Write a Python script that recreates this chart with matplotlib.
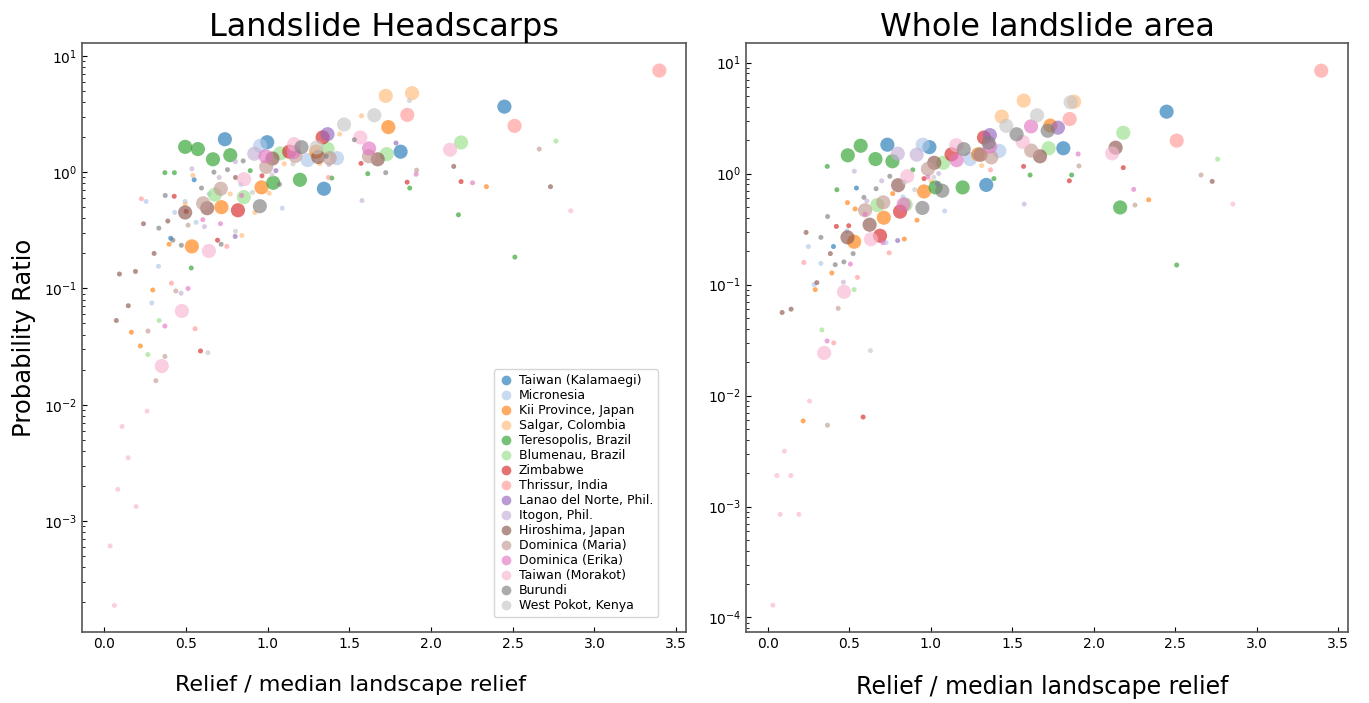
import matplotlib
matplotlib.use("Agg")
import matplotlib.pyplot as plt
from matplotlib.lines import Line2D

sites = ["Taiwan (Kalamaegi)", "Micronesia", "Kii Province, Japan", "Salgar, Colombia",
         "Teresopolis, Brazil", "Blumenau, Brazil", "Zimbabwe", "Thrissur, India",
         "Lanao del Norte, Phil.", "Itogon, Phil.", "Hiroshima, Japan", "Dominica (Maria)",
         "Dominica (Erika)", "Taiwan (Morakot)", "Burundi", "West Pokot, Kenya"]

# (relief ratio, probability ratio, weight)  weight 1 = few cells, 8 = many cells
# ---- headscarps ----
hs_kalamaegi = [(0.739, 1.92, 8), (0.998, 1.81, 8), (1.345, 0.72, 8), (1.814, 1.50, 8), (2.449, 3.66, 8),
                (0.551, 0.86, 1), (0.408, 0.27, 1)]
hs_micronesia = [(0.955, 1.69, 8), (1.245, 1.27, 8), (1.425, 1.32, 8),
                 (0.257, 0.56, 1), (0.496, 0.56, 1), (0.432, 0.45, 1), (0.563, 0.37, 1), (1.090, 0.49, 1),
                 (0.333, 0.155, 1), (0.292, 0.075, 1), (0.643, 0.65, 1), (0.837, 0.785, 1)]
hs_kii = [(0.963, 0.74, 8), (0.718, 0.50, 8), (0.537, 0.23, 8), (1.739, 2.44, 8), (1.298, 1.50, 8),
          (0.398, 0.24, 1), (0.298, 0.097, 1), (0.167, 0.042, 1), (0.222, 0.032, 1), (2.339, 0.75, 1)]
hs_salgar = [(1.723, 4.53, 8), (1.884, 4.78, 8),
             (0.543, 0.94, 1), (0.496, 0.53, 1), (0.772, 0.65, 1), (1.010, 0.66, 1), (0.923, 0.45, 1),
             (1.102, 1.18, 1), (1.318, 1.18, 1), (1.575, 3.05, 1), (1.441, 2.13, 1), (0.843, 0.285, 1)]
hs_teresopolis = [(0.496, 1.65, 8), (0.574, 1.58, 8), (0.666, 1.29, 8), (0.772, 1.40, 8), (1.035, 0.81, 8),
                  (1.198, 0.86, 8),
                  (0.372, 0.99, 1), (0.430, 0.99, 1), (0.894, 1.03, 1), (1.393, 0.89, 1), (1.613, 0.97, 1),
                  (1.870, 0.73, 1), (2.168, 0.43, 1), (2.513, 0.186, 1), (0.533, 0.15, 1)]
hs_blumenau = [(0.678, 0.64, 8), (0.855, 0.61, 8), (1.078, 1.45, 8), (1.367, 1.59, 8), (1.729, 1.43, 8),
               (2.184, 1.80, 8),
               (2.764, 1.85, 1), (0.337, 0.053, 1), (0.268, 0.027, 1)]
hs_zimbabwe = [(0.819, 0.47, 8), (1.337, 1.99, 8), (1.133, 1.50, 8),
               (0.429, 0.62, 1), (0.966, 0.93, 1), (0.694, 0.26, 1), (0.502, 0.46, 1), (1.572, 1.19, 1),
               (1.854, 0.82, 1), (2.184, 0.83, 1), (0.590, 0.029, 1)]
hs_thrissur = [(3.397, 7.48, 8), (1.855, 3.11, 8), (2.511, 2.50, 8),
               (0.228, 0.59, 1), (0.751, 0.23, 1), (0.557, 0.045, 1), (0.412, 0.111, 1), (1.372, 0.90, 1)]
hs_lanao = [(1.367, 2.12, 8),
            (1.051, 1.03, 1), (1.786, 1.78, 1), (0.802, 0.28, 1)]
hs_itogon = [(0.919, 1.44, 8),
             (0.537, 1.07, 1), (0.704, 0.90, 1), (0.804, 1.23, 1), (0.614, 0.34, 1), (0.471, 0.091, 1),
             (1.578, 0.57, 1), (1.376, 1.16, 1)]
hs_hiroshima = [(0.496, 0.45, 8), (0.631, 0.49, 8), (1.030, 1.31, 8), (1.310, 1.35, 8), (1.674, 1.29, 8),
                (0.094, 0.133, 1), (0.192, 0.14, 1), (0.241, 0.36, 1), (0.390, 0.38, 1), (0.306, 0.20, 1),
                (0.148, 0.071, 1), (0.075, 0.053, 1), (0.804, 0.90, 1), (2.139, 1.12, 1), (2.731, 0.75, 1)]
hs_maria = [(0.606, 0.54, 8), (0.714, 0.72, 8), (0.992, 1.11, 8), (1.170, 1.38, 8), (1.620, 1.37, 8),
            (1.380, 1.32, 8),
            (0.514, 0.35, 1), (0.439, 0.095, 1), (0.269, 0.043, 1), (1.912, 1.04, 1), (2.662, 1.58, 1),
            (0.372, 0.026, 1), (0.317, 0.0161, 1)]
hs_erika = [(0.988, 1.37, 8), (1.621, 1.60, 8), (1.159, 1.49, 8),
            (0.604, 0.39, 1), (0.712, 0.36, 1), (0.841, 0.63, 1), (0.514, 0.0998, 1), (0.372, 0.0475, 1),
            (1.909, 0.96, 1), (2.254, 0.81, 1)]
hs_morakot = [(0.857, 0.87, 8), (0.641, 0.21, 8), (0.476, 0.064, 8), (1.163, 1.74, 8), (1.568, 1.99, 8),
              (2.117, 1.56, 8), (0.353, 0.0215, 8),
              (0.263, 0.0088, 1), (0.110, 0.0065, 1), (0.147, 0.0035, 1), (0.084, 0.00187, 1),
              (0.196, 0.00133, 1), (0.037, 0.00061, 1), (0.063, 0.000188, 1), (2.855, 0.465, 1)]
hs_burundi = [(0.953, 0.51, 8), (1.208, 1.64, 8),
              (0.374, 0.63, 1), (0.335, 0.33, 1), (0.473, 0.235, 1), (0.421, 0.26, 1), (0.672, 1.00, 1),
              (0.755, 1.05, 1), (0.851, 1.25, 1), (0.596, 0.73, 1), (0.716, 0.24, 1), (1.073, 0.785, 1),
              (1.531, 1.90, 1), (1.359, 1.37, 1), (1.723, 0.99, 1)]
hs_pokot = [(1.468, 2.57, 8), (1.653, 3.09, 8), (1.300, 1.63, 8),
            (0.804, 0.31, 1), (0.908, 0.67, 1), (1.027, 0.95, 1), (1.868, 4.13, 1), (0.635, 0.028, 1),
            (1.156, 1.18, 1)]

# ---- whole landslide area ----
wl_kalamaegi = [(0.733, 1.82, 8), (0.991, 1.73, 8), (1.813, 1.69, 8), (1.340, 0.79, 8), (2.447, 3.61, 8),
                (0.543, 0.74, 1), (0.402, 0.22, 1)]
wl_micronesia = [(0.950, 1.82, 8), (1.240, 1.35, 8), (1.420, 1.60, 8),
                 (0.248, 0.22, 1), (0.325, 0.155, 1), (0.829, 0.615, 1), (1.085, 0.46, 1), (0.283, 0.100, 1),
                 (0.725, 0.239, 1), (0.484, 0.305, 1)]
wl_kii = [(0.958, 0.69, 8), (0.711, 0.40, 8), (0.529, 0.243, 8), (1.290, 1.49, 8), (1.733, 2.70, 8),
          (0.488, 0.547, 1), (0.535, 0.48, 1), (0.766, 0.66, 1), (0.915, 0.38, 1), (0.392, 0.127, 1),
          (0.290, 0.090, 1), (0.837, 0.257, 1), (2.337, 0.58, 1), (0.216, 0.0059, 1)]
wl_salgar = [(1.570, 4.54, 8), (1.435, 3.26, 8), (1.879, 4.44, 8),
             (1.312, 1.18, 1), (1.001, 0.85, 1)]
wl_teresopolis = [(0.490, 1.46, 8), (0.569, 1.78, 8), (0.660, 1.35, 8), (0.764, 1.29, 8), (1.029, 0.75, 8),
                  (1.195, 0.75, 8), (2.162, 0.495, 8),
                  (0.364, 1.16, 1), (0.423, 0.715, 1), (0.889, 1.08, 1), (1.387, 0.90, 1), (1.609, 0.97, 1),
                  (1.864, 0.97, 1), (2.509, 0.150, 1)]
wl_blumenau = [(0.671, 0.52, 8), (0.845, 0.525, 8), (1.076, 1.25, 8), (1.723, 1.69, 8), (2.181, 2.33, 8),
               (0.529, 0.090, 1), (0.331, 0.039, 1), (2.760, 1.35, 1)]
wl_zimbabwe = [(0.811, 0.454, 8), (0.688, 0.275, 8), (1.127, 1.49, 8), (1.326, 2.11, 8),
               (0.420, 0.334, 1), (0.496, 0.339, 1), (0.958, 0.90, 1), (1.569, 1.16, 1), (1.850, 0.86, 1),
               (2.181, 1.13, 1), (0.584, 0.0064, 1)]
wl_thrissur = [(3.396, 8.45, 8), (2.509, 1.98, 8), (1.852, 3.10, 8),
               (1.366, 1.08, 1), (0.220, 0.158, 1), (0.744, 0.193, 1), (0.549, 0.116, 1), (0.404, 0.0298, 1)]
wl_lanao = [(1.362, 2.22, 8), (1.780, 2.59, 8),
            (1.040, 0.81, 1), (0.796, 0.249, 1)]
wl_itogon = [(0.797, 1.51, 8), (0.913, 1.48, 8),
             (0.530, 1.05, 1), (0.698, 0.86, 1), (0.607, 0.565, 1), (1.048, 1.00, 1), (1.573, 0.53, 1),
             (0.463, 0.105, 1)]
wl_hiroshima = [(0.799, 0.785, 8), (0.624, 0.346, 8), (0.488, 0.266, 8), (1.021, 1.25, 8), (1.305, 1.48, 8),
                (1.670, 1.43, 8), (2.134, 1.71, 8),
                (0.234, 0.295, 1), (0.300, 0.104, 1), (0.087, 0.056, 1), (0.142, 0.060, 1), (0.383, 0.19, 1),
                (2.727, 0.85, 1)]
wl_maria = [(0.596, 0.467, 8), (0.708, 0.55, 8), (0.982, 1.10, 8), (1.298, 1.48, 8), (1.371, 1.40, 8),
            (1.616, 1.61, 8),
            (1.909, 1.17, 1), (2.253, 0.52, 1), (2.658, 0.97, 1), (0.431, 0.061, 1), (0.365, 0.0054, 1)]
wl_erika = [(1.615, 2.66, 8), (0.833, 0.527, 8), (1.158, 1.32, 8), (1.364, 1.75, 8),
            (0.982, 0.93, 1), (0.706, 0.238, 1), (0.506, 0.153, 1), (0.596, 0.43, 1), (1.904, 1.50, 1),
            (2.245, 0.72, 1), (0.363, 0.031, 1)]
wl_morakot = [(0.855, 0.945, 8), (1.156, 1.80, 8), (0.632, 0.256, 8), (0.467, 0.086, 8), (1.564, 1.93, 8),
              (2.113, 1.52, 8), (0.345, 0.0242, 8),
              (0.255, 0.0089, 1), (0.101, 0.00315, 1), (0.055, 0.0019, 1), (0.141, 0.0019, 1),
              (0.075, 0.00085, 1), (0.190, 0.00085, 1), (0.030, 0.000129, 1), (2.854, 0.53, 1)]
wl_burundi = [(1.202, 1.66, 8), (1.070, 0.70, 8), (0.948, 0.49, 8), (1.526, 2.26, 8), (1.717, 2.43, 8),
              (1.354, 1.89, 8),
              (0.664, 0.73, 1), (0.748, 0.946, 1), (0.589, 0.61, 1), (0.366, 0.41, 1), (0.325, 0.266, 1),
              (0.523, 0.19, 1), (0.413, 0.151, 1), (0.466, 0.16, 1)]
wl_pokot = [(1.463, 2.69, 8), (1.652, 3.35, 8), (1.858, 4.39, 8),
            (1.018, 0.926, 1), (0.901, 0.716, 1), (0.629, 0.0254, 1), (0.840, 0.835, 1)]

head = [hs_kalamaegi, hs_micronesia, hs_kii, hs_salgar, hs_teresopolis, hs_blumenau, hs_zimbabwe,
        hs_thrissur, hs_lanao, hs_itogon, hs_hiroshima, hs_maria, hs_erika, hs_morakot, hs_burundi, hs_pokot]
whole = [wl_kalamaegi, wl_micronesia, wl_kii, wl_salgar, wl_teresopolis, wl_blumenau, wl_zimbabwe,
         wl_thrissur, wl_lanao, wl_itogon, wl_hiroshima, wl_maria, wl_erika, wl_morakot, wl_burundi, wl_pokot]

colores = [plt.cm.tab20(i) for i in range(16)]

fig = plt.figure(figsize=(13.69, 7.03), dpi=100)
ax1 = fig.add_axes([0.0599, 0.101, 0.4412, 0.8378])
ax2 = fig.add_axes([0.5449, 0.101, 0.4397, 0.8378])


def dibujar(ax, grupos, titulo, ylim, xl_size):
    for pts, c in zip(grupos, colores):
        x = [p[0] for p in pts]
        y = [p[1] for p in pts]
        s = [13 * p[2] for p in pts]
        ax.scatter(x, y, s=s, color=c, alpha=0.65, linewidths=0)
    ax.set_yscale("log")
    ax.set_xlim(-0.135, 3.56)
    ax.set_ylim(*ylim)
    ax.set_xticks([0.0, 0.5, 1.0, 1.5, 2.0, 2.5, 3.0, 3.5])
    ax.tick_params(which="both", direction="in", labelsize=10)
    ax.set_title(titulo, fontsize=23, pad=5)
    ax.set_xlabel("Relief / median landscape relief", fontsize=xl_size)
    for sp in ax.spines.values():
        sp.set_color("#555555")
        sp.set_linewidth(1.2)


dibujar(ax1, head, "Landslide Headscarps", (1.11e-4, 12.9), 16)
dibujar(ax2, whole, "Whole landslide area", (7.4e-5, 15.0), 17)
ax1.set_ylabel("Probability Ratio", fontsize=17.5, labelpad=6)
ax1.xaxis.set_label_coords(0.445, -0.073)
ax2.xaxis.set_label_coords(0.492, -0.073)

handles = [Line2D([], [], marker="o", linestyle="", color=c, alpha=0.65, markersize=7, markeredgewidth=0)
           for c in colores]
ax1.legend(handles, sites, loc="lower right", bbox_to_anchor=(0.954, 0.025), borderaxespad=0,
           fontsize=9, labelspacing=0.16, handletextpad=0.4, handlelength=1.2, frameon=True)

fig.savefig("out.png", dpi=100)
